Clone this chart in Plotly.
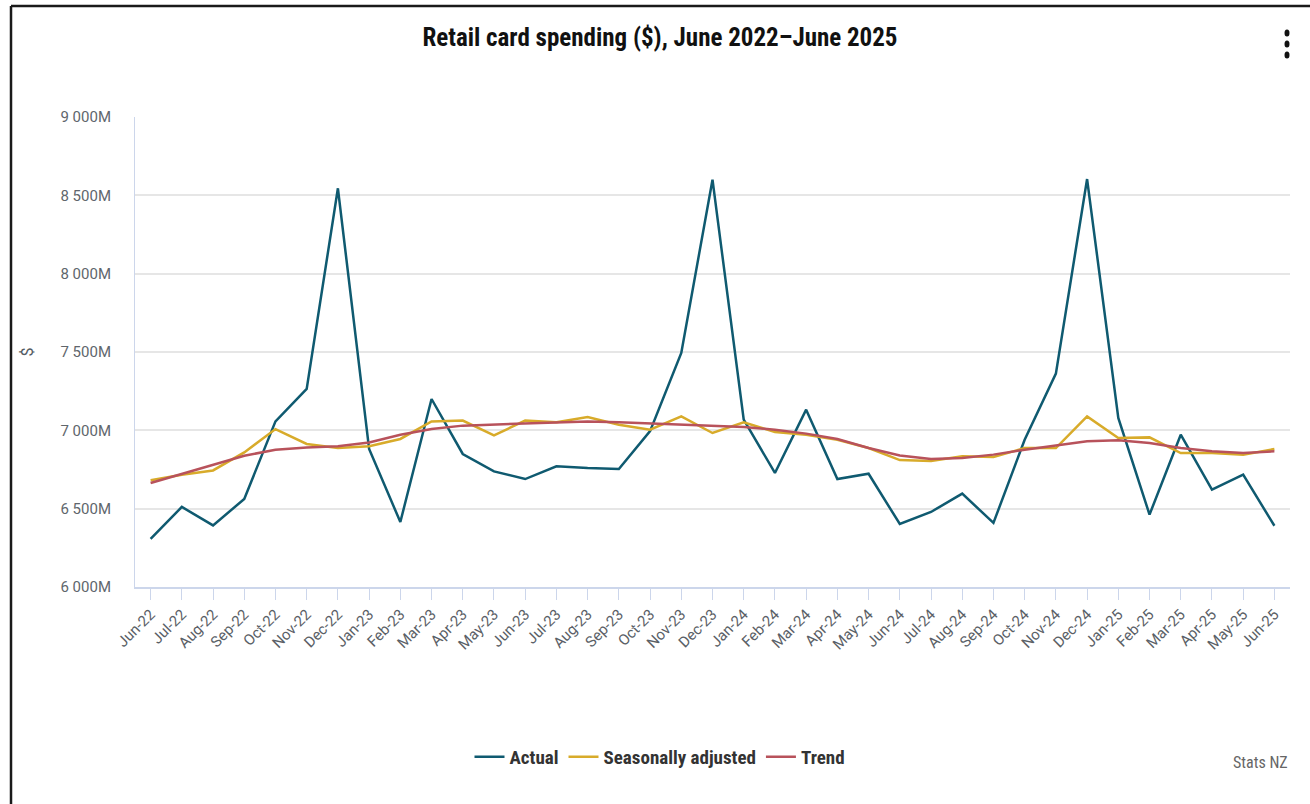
import plotly.graph_objects as go

months = ["Jun-22", "Jul-22", "Aug-22", "Sep-22", "Oct-22", "Nov-22", "Dec-22",
          "Jan-23", "Feb-23", "Mar-23", "Apr-23", "May-23", "Jun-23", "Jul-23",
          "Aug-23", "Sep-23", "Oct-23", "Nov-23", "Dec-23", "Jan-24", "Feb-24",
          "Mar-24", "Apr-24", "May-24", "Jun-24", "Jul-24", "Aug-24", "Sep-24",
          "Oct-24", "Nov-24", "Dec-24", "Jan-25", "Feb-25", "Mar-25", "Apr-25",
          "May-25", "Jun-25"]

# values in $ millions
actual = [6307, 6511, 6393, 6562, 7057, 7264, 8545, 6881, 6415, 7200, 6849, 6738,
          6689, 6770, 6759, 6753, 6995, 7494, 8600, 7068, 6728, 7132, 6689, 6723,
          6402, 6479, 6596, 6409, 6940, 7362, 8604, 7079, 6462, 6972, 6621, 6717,
          6391]
seasonally_adjusted = [6681, 6717, 6744, 6859, 7008, 6913, 6887, 6898, 6945, 7057,
                       7062, 6968, 7062, 7051, 7085, 7036, 7004, 7089, 6983, 7051,
                       6989, 6972, 6940, 6887, 6810, 6805, 6834, 6830, 6887, 6887,
                       7089, 6951, 6955, 6855, 6855, 6845, 6881]
trend = [6664, 6723, 6781, 6838, 6876, 6891, 6898, 6923, 6972, 7008, 7030, 7036,
         7043, 7051, 7057, 7051, 7043, 7036, 7030, 7021, 7004, 6979, 6945, 6887,
         6840, 6817, 6823, 6845, 6876, 6902, 6930, 6936, 6919, 6887, 6866, 6855,
         6866]

y_ticks = [6000, 6500, 7000, 7500, 8000, 8500, 9000]
y_tick_labels = ["6 000M", "6 500M", "7 000M", "7 500M", "8 000M", "8 500M", "9 000M"]

series_names = ["Actual", "Seasonally adjusted", "Trend"]
series_colors = ["#0f5a70", "#d8ab2a", "#b8525b"]

fig = go.Figure()
for name, vals, col in zip(series_names, [actual, seasonally_adjusted, trend], series_colors):
    fig.add_trace(go.Scatter(x=months, y=vals, mode="lines", name=name,
                             line=dict(color=col, width=2.5),
                             hovertemplate="%{x}: %{y}M<extra>" + name + "</extra>"))

# plot area geometry (px) for decorative shapes
W, H = 1310, 804
L, R, T, B = 135, 20, 117, 217
pw, ph = W - L - R, H - T - B

def px(xp):
    return (xp - L) / pw

def py(yp):
    return (H - B - yp) / ph

shapes = [
    # frame border (top and left)
    dict(type="line", xref="paper", yref="paper", x0=px(11), x1=px(1312),
         y0=py(6), y1=py(6), line=dict(color="#1a1a1a", width=2.5)),
    dict(type="line", xref="paper", yref="paper", x0=px(11), x1=px(11),
         y0=py(6), y1=py(806), line=dict(color="#1a1a1a", width=2.5)),
]
# menu dots
for cy in [33, 44, 55]:
    shapes.append(dict(type="circle", xref="paper", yref="paper",
                       x0=px(1284.5), x1=px(1289.5), y0=py(cy + 3.5), y1=py(cy - 3.5),
                       fillcolor="#111111", line=dict(width=0)))

fig.update_layout(
    width=W, height=H,
    margin=dict(l=L, r=R, t=T, b=B),
    paper_bgcolor="white", plot_bgcolor="white",
    title=dict(text="<b>Retail card spending ($), June 2022–June 2025</b>",
               x=660 / W, xref="container", xanchor="center",
               y=1 - 37 / H, yref="container", yanchor="middle",
               font=dict(family="Liberation Sans Narrow, Roboto Condensed, Arial Narrow, sans-serif",
                         size=25, color="#111111")),
    showlegend=True,
    legend=dict(orientation="h", x=660 / W, xref="container", xanchor="center",
                y=1 - 757 / H, yref="container", yanchor="middle",
                font=dict(family="Liberation Sans Narrow, Roboto Condensed, Arial Narrow, sans-serif",
                          size=19, color="#333333", weight="bold"),
                itemwidth=30, traceorder="normal"),
    xaxis=dict(range=[-0.5, len(months) - 0.5], showgrid=False,
               showline=True, linecolor="#ccd6eb", linewidth=1.5,
               ticks="outside", ticklen=11, tickcolor="#ccd6eb", tickwidth=1,
               tickangle=-45, tickmode="array", tickvals=months,
               tickfont=dict(family="Roboto, Open Sans, sans-serif", size=15, color="#5a6066"),
               fixedrange=True),
    yaxis=dict(range=[6000, 9000], tickvals=y_ticks, ticktext=y_tick_labels,
               showgrid=True, gridcolor="#e6e6e6", gridwidth=1.5,
               showline=True, linecolor="#ccd6eb", linewidth=1,
               zeroline=False, ticklabelstandoff=20,
               tickfont=dict(family="Roboto, Open Sans, sans-serif", size=15, color="#60666c"),
               title=dict(text="$", standoff=22,
                          font=dict(family="Roboto, sans-serif", size=16, color="#555c63")),
               fixedrange=True),
    shapes=shapes,
    annotations=[dict(text="Stats NZ", xref="paper", yref="paper",
                      x=px(1290), y=py(762), xanchor="right", yanchor="middle",
                      showarrow=False,
                      font=dict(family="Liberation Sans Narrow, Roboto Condensed, sans-serif",
                                size=16, color="#666666"))],
)

fig.write_html("out.html", config={"displayModeBar": False},
               post_script="document.body.style.margin='0';document.body.style.overflow='hidden';")
